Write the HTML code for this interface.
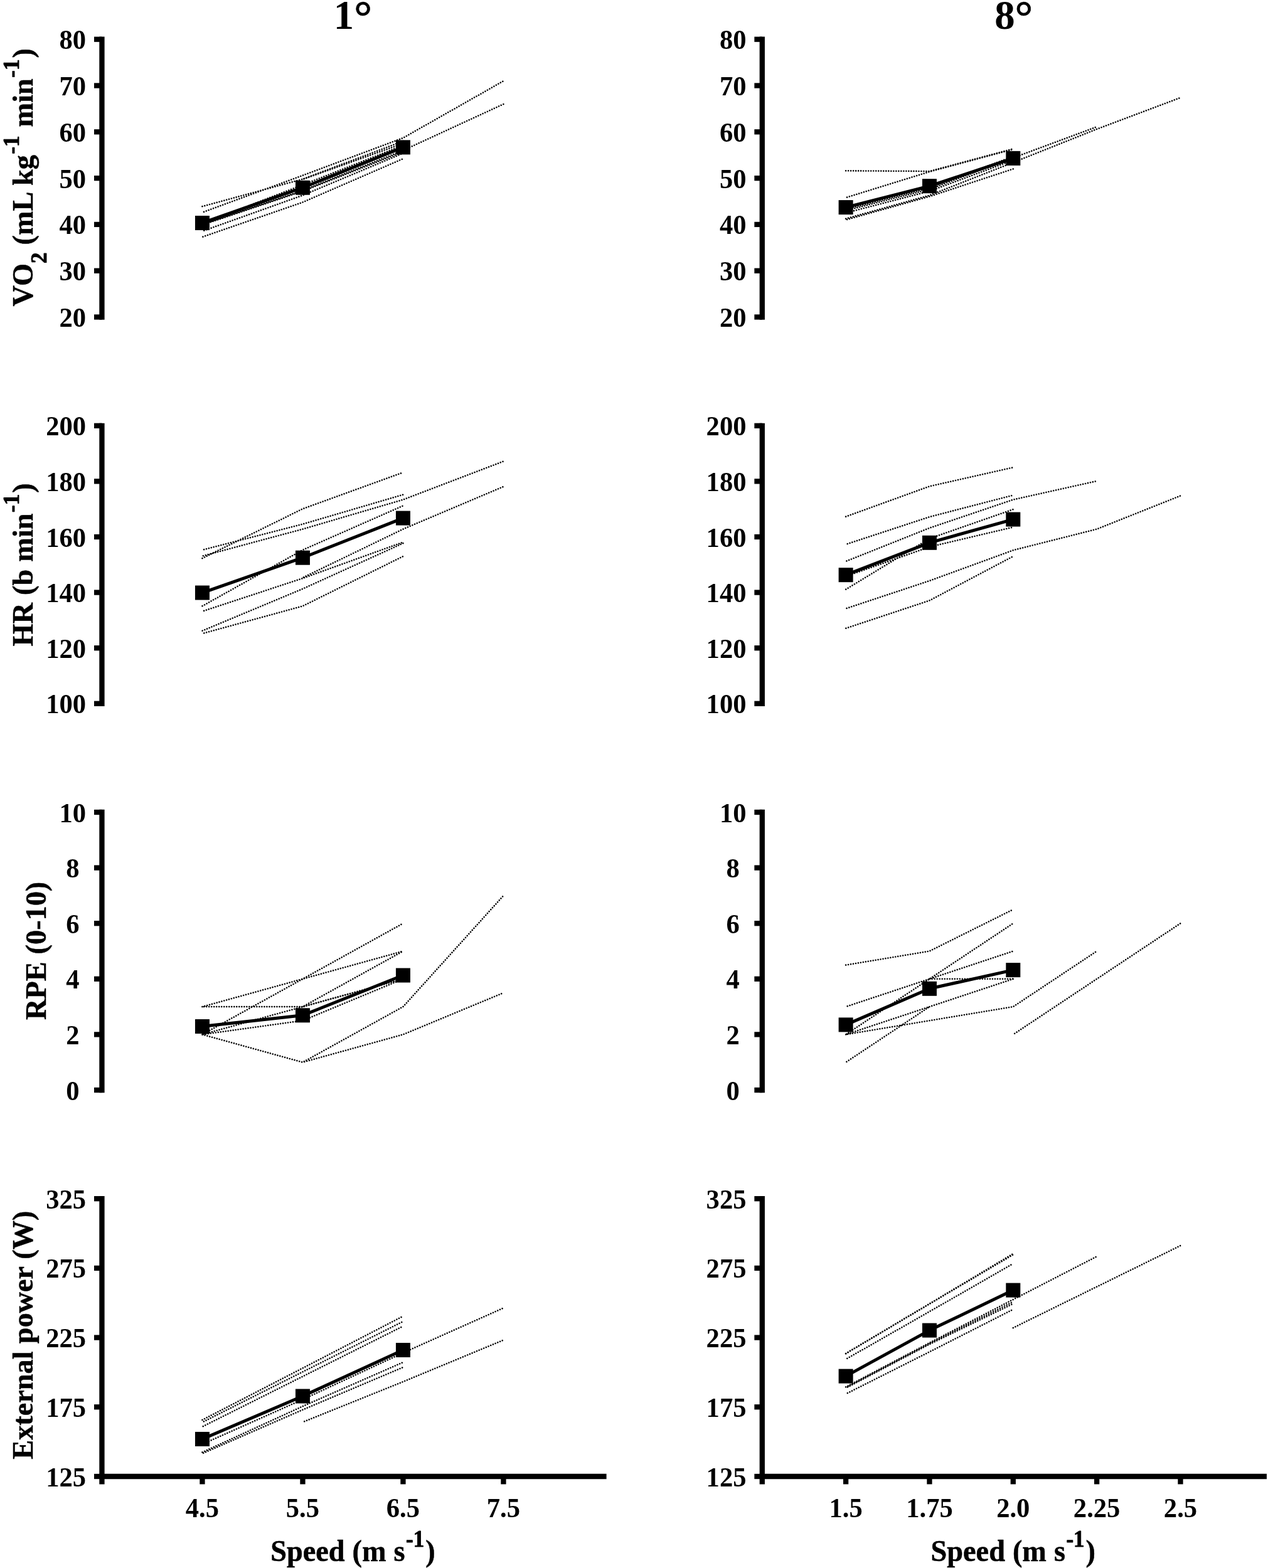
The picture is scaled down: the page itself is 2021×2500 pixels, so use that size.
<!DOCTYPE html>
<html lang="en"><head><meta charset="utf-8"><title>Figure</title>
<style>
html,body{margin:0;padding:0;background:#fff;}
body{width:2021px;height:2500px;overflow:hidden;}
svg{display:block;}
text{font-family:'Liberation Serif',serif;font-weight:bold;fill:#000;stroke:#000;stroke-width:0.5px;stroke-linejoin:round;}
.ss{stroke-width:0.9px;}
.tk{font-size:42.6px;stroke-width:0;}
.tt{font-size:46.3px;letter-spacing:0px;word-spacing:0.5px;}
.hd{font-size:64.8px;stroke-width:0;}
.ax{stroke:#000;stroke-width:8.3;fill:none;stroke-linecap:butt;}
.dl{stroke:#000;stroke-width:2.6;fill:none;stroke-dasharray:0.01 4;stroke-linecap:round;stroke-linejoin:round;}
.ml{stroke:#000;stroke-width:5;fill:none;stroke-linejoin:round;}
</style></head><body>
<svg width="2021" height="2500" viewBox="0 0 2021 2500" role="img" aria-label="Physiological responses versus speed at 1 and 8 degree inclines">
<rect width="2021" height="2500" fill="#fff"/>
<g>
<polyline class="dl" stroke-dashoffset="0" points="322.45,329.12 482.45,285.58 642.45,225.06"/>
<polyline class="dl" stroke-dashoffset="1.3" points="322.45,338.71 482.45,279.67 642.45,219.89 802.45,129.12"/>
<polyline class="dl" stroke-dashoffset="2" points="482.45,285.94 642.45,228.75"/>
<polyline class="dl" stroke-dashoffset="0.7" points="322.45,356.42 482.45,294.8 642.45,231.7"/>
<polyline class="dl" stroke-dashoffset="0" points="322.45,357.9 482.45,303.66 642.45,239.82 802.45,166.02"/>
<polyline class="dl" stroke-dashoffset="2" points="322.45,358.64 482.45,304.76 642.45,242.03"/>
<polyline class="dl" stroke-dashoffset="1" points="322.45,368.6 482.45,311.41 642.45,244.25"/>
<polyline class="dl" stroke-dashoffset="3" points="322.45,377.83 482.45,322.48 642.45,253.1"/>
<polyline class="ml" points="322.45,355.46 482.45,299.23 642.45,234.88"/>
<rect x="310.95" y="343.96" width="23" height="23"/>
<rect x="470.95" y="287.73" width="23" height="23"/>
<rect x="630.95" y="223.38" width="23" height="23"/>
<path class="ax" d="M162.45 58.55V509.65"/>
<path class="ax" d="M150 505.5H162.45"/>
<text class="tk" text-anchor="end" transform="translate(137.15 521) scale(1 1.02)">20</text>
<path class="ax" d="M150 431.7H162.45"/>
<text class="tk" text-anchor="end" transform="translate(137.15 447.2) scale(1 1.02)">30</text>
<path class="ax" d="M150 357.9H162.45"/>
<text class="tk" text-anchor="end" transform="translate(137.15 373.4) scale(1 1.02)">40</text>
<path class="ax" d="M150 284.1H162.45"/>
<text class="tk" text-anchor="end" transform="translate(137.15 299.6) scale(1 1.02)">50</text>
<path class="ax" d="M150 210.3H162.45"/>
<text class="tk" text-anchor="end" transform="translate(137.15 225.8) scale(1 1.02)">60</text>
<path class="ax" d="M150 136.5H162.45"/>
<text class="tk" text-anchor="end" transform="translate(137.15 152) scale(1 1.02)">70</text>
<path class="ax" d="M150 62.7H162.45"/>
<text class="tk" text-anchor="end" transform="translate(137.15 78.2) scale(1 1.02)">80</text>
<text class="hd" text-anchor="middle" transform="translate(562.45 46.1) scale(1 1.024)">1<tspan font-size="72px" dy="5.5" stroke="#000" stroke-width="0.6">°</tspan></text>
<text class="tt" text-anchor="middle" transform="translate(52 282.8) rotate(-90) scale(1.0 1.0)">VO<tspan class="ss" font-size="35px" dy="22">2</tspan><tspan dy="-22"> (mL kg</tspan><tspan class="ss" font-size="35px" dx="1.5" dy="-22">-1</tspan><tspan dx="2" dy="22"> min</tspan><tspan class="ss" font-size="35px" dx="1.5" dy="-22">-1</tspan><tspan dx="2" dy="22">)</tspan></text>
</g>
<g>
<polyline class="dl" stroke-dashoffset="0" points="1348.13,272.29 1481.47,273.03 1614.8,237.24"/>
<polyline class="dl" stroke-dashoffset="2" points="1348.13,315.1 1481.47,273.77 1614.8,237.98"/>
<polyline class="dl" stroke-dashoffset="0" points="1348.13,333.55 1481.47,299.6 1614.8,249.41"/>
<polyline class="dl" stroke-dashoffset="1.3" points="1348.13,335.76 1481.47,301.81 1614.8,251.63 1748.13,202.18"/>
<polyline class="dl" stroke-dashoffset="2.6" points="1348.13,339.45 1481.47,304.76 1614.8,255.32"/>
<polyline class="dl" stroke-dashoffset="0" points="1348.13,348.67 1481.47,311.41 1614.8,259.01 1748.13,205.87 1881.47,155.69"/>
<polyline class="dl" stroke-dashoffset="2" points="1348.13,350.52 1481.47,313.25 1614.8,269.34"/>
<polyline class="ml" points="1348.13,330.59 1481.47,296.65 1614.8,252.37"/>
<rect x="1336.63" y="319.09" width="23" height="23"/>
<rect x="1469.97" y="285.15" width="23" height="23"/>
<rect x="1603.3" y="240.87" width="23" height="23"/>
<path class="ax" d="M1214.8 58.55V509.65"/>
<path class="ax" d="M1202.35 505.5H1214.8"/>
<text class="tk" text-anchor="end" transform="translate(1189.5 521) scale(1 1.02)">20</text>
<path class="ax" d="M1202.35 431.7H1214.8"/>
<text class="tk" text-anchor="end" transform="translate(1189.5 447.2) scale(1 1.02)">30</text>
<path class="ax" d="M1202.35 357.9H1214.8"/>
<text class="tk" text-anchor="end" transform="translate(1189.5 373.4) scale(1 1.02)">40</text>
<path class="ax" d="M1202.35 284.1H1214.8"/>
<text class="tk" text-anchor="end" transform="translate(1189.5 299.6) scale(1 1.02)">50</text>
<path class="ax" d="M1202.35 210.3H1214.8"/>
<text class="tk" text-anchor="end" transform="translate(1189.5 225.8) scale(1 1.02)">60</text>
<path class="ax" d="M1202.35 136.5H1214.8"/>
<text class="tk" text-anchor="end" transform="translate(1189.5 152) scale(1 1.02)">70</text>
<path class="ax" d="M1202.35 62.7H1214.8"/>
<text class="tk" text-anchor="end" transform="translate(1189.5 78.2) scale(1 1.02)">80</text>
<text class="hd" text-anchor="middle" transform="translate(1615.8 46.1) scale(1 1.024)">8<tspan font-size="72px" dy="5.5" stroke="#000" stroke-width="0.6">°</tspan></text>
</g>
<g>
<polyline class="dl" stroke-dashoffset="0" points="322.45,890.11 482.45,811.26 642.45,753.22"/>
<polyline class="dl" stroke-dashoffset="1.3" points="322.45,876.82 482.45,835.62 642.45,788.66"/>
<polyline class="dl" stroke-dashoffset="2.6" points="322.45,886.57 482.45,843.6 642.45,796.64 802.45,735.5"/>
<polyline class="dl" stroke-dashoffset="3.9" points="322.45,966.31 482.45,876.82 642.45,806.38"/>
<polyline class="dl" stroke-dashoffset="1.2" points="322.45,974.72 482.45,922.01 642.45,864.42"/>
<polyline class="dl" stroke-dashoffset="2.5" points="482.45,921.12 642.45,843.6 802.45,775.82"/>
<polyline class="dl" stroke-dashoffset="3.8" points="322.45,1005.73 482.45,938.84 642.45,866.19"/>
<polyline class="dl" stroke-dashoffset="1.1" points="322.45,1010.16 482.45,966.31 642.45,887.01"/>
<polyline class="ml" points="322.45,945.04 482.45,889.22 642.45,826.1"/>
<rect x="310.95" y="933.54" width="23" height="23"/>
<rect x="470.95" y="877.72" width="23" height="23"/>
<rect x="630.95" y="814.6" width="23" height="23"/>
<path class="ax" d="M162.45 674.65V1125.95"/>
<path class="ax" d="M150 1121.8H162.45"/>
<text class="tk" text-anchor="end" transform="translate(137.15 1137.3) scale(1 1.02)">100</text>
<path class="ax" d="M150 1033.2H162.45"/>
<text class="tk" text-anchor="end" transform="translate(137.15 1048.7) scale(1 1.02)">120</text>
<path class="ax" d="M150 944.6H162.45"/>
<text class="tk" text-anchor="end" transform="translate(137.15 960.1) scale(1 1.02)">140</text>
<path class="ax" d="M150 856H162.45"/>
<text class="tk" text-anchor="end" transform="translate(137.15 871.5) scale(1 1.02)">160</text>
<path class="ax" d="M150 767.4H162.45"/>
<text class="tk" text-anchor="end" transform="translate(137.15 782.9) scale(1 1.02)">180</text>
<path class="ax" d="M150 678.8H162.45"/>
<text class="tk" text-anchor="end" transform="translate(137.15 694.3) scale(1 1.02)">200</text>
<text class="tt" text-anchor="middle" transform="translate(52 900.4) rotate(-90) scale(1.0 1.0)">HR (b min<tspan class="ss" font-size="35px" dx="1.5" dy="-22">-1</tspan><tspan dx="2" dy="22">)</tspan></text>
</g>
<g>
<polyline class="dl" stroke-dashoffset="0" points="1348.13,823.66 1481.47,775.37 1614.8,745.25"/>
<polyline class="dl" stroke-dashoffset="1.3" points="1348.13,867.96 1481.47,824.1 1614.8,789.55"/>
<polyline class="dl" stroke-dashoffset="2.6" points="1348.13,894.98 1481.47,841.82 1614.8,796.64 1748.13,766.96"/>
<polyline class="dl" stroke-dashoffset="3.9" points="1348.13,939.73 1481.47,858.66 1614.8,812.14"/>
<polyline class="dl" stroke-dashoffset="1.2" points="1348.13,918.91 1481.47,871.95 1614.8,840.49"/>
<polyline class="dl" stroke-dashoffset="2.5" points="1348.13,970.29 1481.47,925.99 1614.8,877.26 1748.13,843.6 1881.47,790.44"/>
<polyline class="dl" stroke-dashoffset="3.8" points="1348.13,1001.75 1481.47,957.45 1614.8,887.01"/>
<polyline class="ml" points="1348.13,916.69 1481.47,865.3 1614.8,828.09"/>
<rect x="1336.63" y="905.19" width="23" height="23"/>
<rect x="1469.97" y="853.8" width="23" height="23"/>
<rect x="1603.3" y="816.59" width="23" height="23"/>
<path class="ax" d="M1214.8 674.65V1125.95"/>
<path class="ax" d="M1202.35 1121.8H1214.8"/>
<text class="tk" text-anchor="end" transform="translate(1189.5 1137.3) scale(1 1.02)">100</text>
<path class="ax" d="M1202.35 1033.2H1214.8"/>
<text class="tk" text-anchor="end" transform="translate(1189.5 1048.7) scale(1 1.02)">120</text>
<path class="ax" d="M1202.35 944.6H1214.8"/>
<text class="tk" text-anchor="end" transform="translate(1189.5 960.1) scale(1 1.02)">140</text>
<path class="ax" d="M1202.35 856H1214.8"/>
<text class="tk" text-anchor="end" transform="translate(1189.5 871.5) scale(1 1.02)">160</text>
<path class="ax" d="M1202.35 767.4H1214.8"/>
<text class="tk" text-anchor="end" transform="translate(1189.5 782.9) scale(1 1.02)">180</text>
<path class="ax" d="M1202.35 678.8H1214.8"/>
<text class="tk" text-anchor="end" transform="translate(1189.5 694.3) scale(1 1.02)">200</text>
</g>
<g>
<polyline class="dl" stroke-dashoffset="0" points="322.45,1605.1 482.45,1560.8 642.45,1516.5"/>
<polyline class="dl" stroke-dashoffset="1.3" points="322.45,1605.1 482.45,1605.1 642.45,1516.5"/>
<polyline class="dl" stroke-dashoffset="2.6" points="322.45,1649.4 482.45,1560.8 642.45,1472.2"/>
<polyline class="dl" stroke-dashoffset="0" points="322.45,1649.4 482.45,1605.1 642.45,1560.8"/>
<polyline class="dl" stroke-dashoffset="2" points="482.45,1605.1 642.45,1560.8"/>
<polyline class="dl" stroke-dashoffset="2.5" points="322.45,1649.4 482.45,1627.25 642.45,1560.8"/>
<polyline class="dl" stroke-dashoffset="3.8" points="322.45,1649.4 482.45,1693.7 642.45,1605.1 802.45,1427.9"/>
<polyline class="dl" stroke-dashoffset="1.1" points="482.45,1693.7 642.45,1649.4 802.45,1582.95"/>
<polyline class="ml" points="322.45,1636.55 482.45,1618.83 642.45,1555.04"/>
<rect x="310.95" y="1625.05" width="23" height="23"/>
<rect x="470.95" y="1607.33" width="23" height="23"/>
<rect x="630.95" y="1543.54" width="23" height="23"/>
<path class="ax" d="M162.45 1290.85V1742.15"/>
<path class="ax" d="M150 1738H162.45"/>
<text class="tk" text-anchor="end" transform="translate(126.5 1753.5) scale(1 1.02)">0</text>
<path class="ax" d="M150 1649.4H162.45"/>
<text class="tk" text-anchor="end" transform="translate(126.5 1664.9) scale(1 1.02)">2</text>
<path class="ax" d="M150 1560.8H162.45"/>
<text class="tk" text-anchor="end" transform="translate(126.5 1576.3) scale(1 1.02)">4</text>
<path class="ax" d="M150 1472.2H162.45"/>
<text class="tk" text-anchor="end" transform="translate(126.5 1487.7) scale(1 1.02)">6</text>
<path class="ax" d="M150 1383.6H162.45"/>
<text class="tk" text-anchor="end" transform="translate(126.5 1399.1) scale(1 1.02)">8</text>
<path class="ax" d="M150 1295H162.45"/>
<text class="tk" text-anchor="end" transform="translate(137.15 1310.5) scale(1 1.02)">10</text>
<text class="tt" text-anchor="middle" transform="translate(72.8 1515.9) rotate(-90) scale(1.0 1.0)">RPE (0-10)</text>
</g>
<g>
<polyline class="dl" stroke-dashoffset="0" points="1348.13,1538.65 1481.47,1516.5 1614.8,1450.05"/>
<polyline class="dl" stroke-dashoffset="1.3" points="1348.13,1605.1 1481.47,1560.8 1614.8,1516.5"/>
<polyline class="dl" stroke-dashoffset="2.6" points="1348.13,1649.4 1481.47,1560.8 1614.8,1472.2"/>
<polyline class="dl" stroke-dashoffset="3.9" points="1348.13,1649.4 1481.47,1605.1 1614.8,1560.8"/>
<polyline class="dl" stroke-dashoffset="1.2" points="1348.13,1649.4 1481.47,1627.25 1614.8,1605.1 1748.13,1516.5"/>
<polyline class="dl" stroke-dashoffset="2.5" points="1348.13,1693.7 1481.47,1605.1"/>
<polyline class="dl" stroke-dashoffset="3.8" points="1481.47,1560.8 1614.8,1560.8"/>
<polyline class="dl" stroke-dashoffset="1.1" points="1614.8,1649.4 1748.13,1560.8 1881.47,1472.2"/>
<polyline class="ml" points="1348.13,1633.89 1481.47,1576.31 1614.8,1546.62"/>
<rect x="1336.63" y="1622.39" width="23" height="23"/>
<rect x="1469.97" y="1564.81" width="23" height="23"/>
<rect x="1603.3" y="1535.12" width="23" height="23"/>
<path class="ax" d="M1214.8 1290.85V1742.15"/>
<path class="ax" d="M1202.35 1738H1214.8"/>
<text class="tk" text-anchor="end" transform="translate(1178.85 1753.5) scale(1 1.02)">0</text>
<path class="ax" d="M1202.35 1649.4H1214.8"/>
<text class="tk" text-anchor="end" transform="translate(1178.85 1664.9) scale(1 1.02)">2</text>
<path class="ax" d="M1202.35 1560.8H1214.8"/>
<text class="tk" text-anchor="end" transform="translate(1178.85 1576.3) scale(1 1.02)">4</text>
<path class="ax" d="M1202.35 1472.2H1214.8"/>
<text class="tk" text-anchor="end" transform="translate(1178.85 1487.7) scale(1 1.02)">6</text>
<path class="ax" d="M1202.35 1383.6H1214.8"/>
<text class="tk" text-anchor="end" transform="translate(1178.85 1399.1) scale(1 1.02)">8</text>
<path class="ax" d="M1202.35 1295H1214.8"/>
<text class="tk" text-anchor="end" transform="translate(1189.5 1310.5) scale(1 1.02)">10</text>
</g>
<g>
<polyline class="dl" stroke-dashoffset="0" points="322.45,2263.89 482.45,2181.31 642.45,2098.5"/>
<polyline class="dl" stroke-dashoffset="1.3" points="322.45,2267.65 482.45,2187.29 642.45,2106.92"/>
<polyline class="dl" stroke-dashoffset="2.6" points="322.45,2274.74 482.45,2194.59 642.45,2114.45"/>
<polyline class="dl" stroke-dashoffset="0.5" points="322.45,2302.64 482.45,2231.34 642.45,2156.95 802.45,2085.44"/>
<polyline class="dl" stroke-dashoffset="0" points="322.45,2315.48 482.45,2242.19 642.45,2172.01"/>
<polyline class="dl" stroke-dashoffset="2" points="322.45,2317.47 482.45,2247.73 642.45,2179.98"/>
<polyline class="dl" stroke-dashoffset="1" points="482.45,2267.43 642.45,2203.01 802.45,2136.59"/>
<polyline class="ml" points="322.45,2294.44 482.45,2226.03 642.45,2152.53"/>
<rect x="310.95" y="2282.94" width="23" height="23"/>
<rect x="470.95" y="2214.53" width="23" height="23"/>
<rect x="630.95" y="2141.03" width="23" height="23"/>
<path class="ax" d="M162.45 1907.05V2366.45"/>
<path class="ax" d="M150 2354H162.45"/>
<text class="tk" text-anchor="end" transform="translate(137.15 2369.5) scale(1 1.02)">125</text>
<path class="ax" d="M150 2243.3H162.45"/>
<text class="tk" text-anchor="end" transform="translate(137.15 2258.8) scale(1 1.02)">175</text>
<path class="ax" d="M150 2132.6H162.45"/>
<text class="tk" text-anchor="end" transform="translate(137.15 2148.1) scale(1 1.02)">225</text>
<path class="ax" d="M150 2021.9H162.45"/>
<text class="tk" text-anchor="end" transform="translate(137.15 2037.4) scale(1 1.02)">275</text>
<path class="ax" d="M150 1911.2H162.45"/>
<text class="tk" text-anchor="end" transform="translate(137.15 1926.7) scale(1 1.02)">325</text>
<path class="ax" d="M158.3 2354H966.6"/>
<path class="ax" d="M322.45 2354V2366.45"/>
<text class="tk" text-anchor="middle" transform="translate(322.45 2418.6) scale(1 1.02)">4.5</text>
<path class="ax" d="M482.45 2354V2366.45"/>
<text class="tk" text-anchor="middle" transform="translate(482.45 2418.6) scale(1 1.02)">5.5</text>
<path class="ax" d="M642.45 2354V2366.45"/>
<text class="tk" text-anchor="middle" transform="translate(642.45 2418.6) scale(1 1.02)">6.5</text>
<path class="ax" d="M802.45 2354V2366.45"/>
<text class="tk" text-anchor="middle" transform="translate(802.45 2418.6) scale(1 1.02)">7.5</text>
<text class="tt" text-anchor="middle" transform="translate(562.45 2489.3) scale(1 1.06)">Speed (m s<tspan class="ss" font-size="35px" dx="1.5" dy="-22">-1</tspan><tspan dx="2" dy="22">)</tspan></text>
<text class="tt" text-anchor="middle" transform="translate(52.3 2128.6) rotate(-90) scale(1.0 1.0)">External power (W)</text>
</g>
<g>
<polyline class="dl" stroke-dashoffset="0" points="1348.13,2158.06 1481.47,2078.8 1614.8,1998.87"/>
<polyline class="dl" stroke-dashoffset="0" points="1348.13,2158.06 1481.47,2078.8 1614.8,2000.42"/>
<polyline class="dl" stroke-dashoffset="1.5" points="1348.13,2167.14 1481.47,2091.2 1614.8,2014.59"/>
<polyline class="dl" stroke-dashoffset="0" points="1348.13,2211.42 1481.47,2141.01 1614.8,2071.94 1748.13,2003.3"/>
<polyline class="dl" stroke-dashoffset="0.4" points="1348.13,2212.3 1481.47,2142.12 1614.8,2075.59"/>
<polyline class="dl" stroke-dashoffset="0.8" points="1348.13,2213.19 1481.47,2143.23 1614.8,2078.58"/>
<polyline class="dl" stroke-dashoffset="1" points="1348.13,2222.49 1481.47,2155.4 1614.8,2087.66"/>
<polyline class="dl" stroke-dashoffset="0" points="1614.8,2117.1 1748.13,2051.57 1881.47,1986.03"/>
<polyline class="ml" points="1348.13,2194.15 1481.47,2121.09 1614.8,2057.1"/>
<rect x="1336.63" y="2182.65" width="23" height="23"/>
<rect x="1469.97" y="2109.59" width="23" height="23"/>
<rect x="1603.3" y="2045.6" width="23" height="23"/>
<path class="ax" d="M1214.8 1907.05V2366.45"/>
<path class="ax" d="M1202.35 2354H1214.8"/>
<text class="tk" text-anchor="end" transform="translate(1189.5 2369.5) scale(1 1.02)">125</text>
<path class="ax" d="M1202.35 2243.3H1214.8"/>
<text class="tk" text-anchor="end" transform="translate(1189.5 2258.8) scale(1 1.02)">175</text>
<path class="ax" d="M1202.35 2132.6H1214.8"/>
<text class="tk" text-anchor="end" transform="translate(1189.5 2148.1) scale(1 1.02)">225</text>
<path class="ax" d="M1202.35 2021.9H1214.8"/>
<text class="tk" text-anchor="end" transform="translate(1189.5 2037.4) scale(1 1.02)">275</text>
<path class="ax" d="M1202.35 1911.2H1214.8"/>
<text class="tk" text-anchor="end" transform="translate(1189.5 1926.7) scale(1 1.02)">325</text>
<path class="ax" d="M1210.65 2354H2018.95"/>
<path class="ax" d="M1348.13 2354V2366.45"/>
<text class="tk" text-anchor="middle" transform="translate(1348.13 2418.6) scale(1 1.02)">1.5</text>
<path class="ax" d="M1481.47 2354V2366.45"/>
<text class="tk" text-anchor="middle" transform="translate(1481.47 2418.6) scale(1 1.02)">1.75</text>
<path class="ax" d="M1614.8 2354V2366.45"/>
<text class="tk" text-anchor="middle" transform="translate(1614.8 2418.6) scale(1 1.02)">2.0</text>
<path class="ax" d="M1748.13 2354V2366.45"/>
<text class="tk" text-anchor="middle" transform="translate(1748.13 2418.6) scale(1 1.02)">2.25</text>
<path class="ax" d="M1881.47 2354V2366.45"/>
<text class="tk" text-anchor="middle" transform="translate(1881.47 2418.6) scale(1 1.02)">2.5</text>
<text class="tt" text-anchor="middle" transform="translate(1614.8 2489.3) scale(1 1.06)">Speed (m s<tspan class="ss" font-size="35px" dx="1.5" dy="-22">-1</tspan><tspan dx="2" dy="22">)</tspan></text>
</g>
</svg>
</body></html>
